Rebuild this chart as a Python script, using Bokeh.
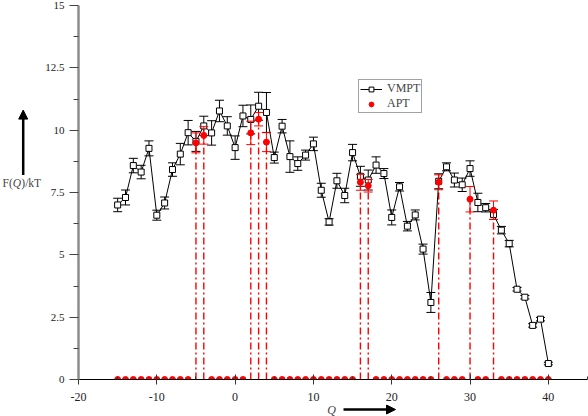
from bokeh.plotting import figure
from bokeh.layouts import row, column
from bokeh.models import (Whisker, TeeHead, Legend, LegendItem, Label, Arrow, NormalHead,
                          FixedTicker, ColumnDataSource, Range1d)
from bokeh.embed import file_html
from bokeh.resources import INLINE

# ---------------- data ----------------
q = [-15, -14, -13, -12, -11, -10, -9, -8, -7, -6,
     -5, -4, -3, -2, -1, 0, 1, 2, 3, 4,
     5, 6, 7, 8, 9, 10, 11, 12, 13, 14,
     15, 16, 17, 18, 19, 20, 21, 22, 23, 24,
     25, 26, 27, 28, 29, 30, 31, 32, 33, 34,
     35, 36, 37, 38, 39, 40]
vmpt = [7.0, 7.3, 8.58, 8.32, 9.27, 6.59, 7.08, 8.42, 9.04, 9.9,
        9.55, 10.17, 9.89, 10.77, 10.17, 9.3, 10.57, 10.43, 10.96, 10.71,
        8.9, 10.16, 8.94, 8.66, 9.0, 9.45, 7.59, 6.32, 7.97, 7.38,
        9.1, 8.15, 8.0, 8.6, 8.26, 6.5, 7.73, 6.15, 6.6, 5.23,
        3.09, 7.95, 8.53, 8.0, 7.81, 8.46, 7.1, 6.89, 6.62, 5.99,
        5.45, 3.62, 3.3, 2.17, 2.42, 0.64]
vmpt_err = [0.27, 0.3, 0.29, 0.27, 0.3, 0.2, 0.24, 0.27, 0.43, 0.49,
            0.4, 0.39, 0.49, 0.43, 0.37, 0.47, 0.43, 0.58, 0.56, 0.8,
            0.22, 0.27, 0.63, 0.27, 0.2, 0.27, 0.28, 0.13, 0.3, 0.29,
            0.33, 0.4, 0.4, 0.33, 0.2, 0.3, 0.17, 0.19, 0.2, 0.2,
            0.4, 0.3, 0.16, 0.28, 0.27, 0.31, 0.37, 0.17, 0.2, 0.15,
            0.13, 0.07, 0.07, 0.07, 0.07, 0.05]
apt = [0, 0, 0, 0, 0, 0, 0, 0, 0, 0,
       9.49, 9.79, 0, 0, 0, 0, 0, 9.89, 10.44, 9.52,
       0, 0, 0, 0, 0, 0, 0, 0, 0, 0,
       0, 7.91, 7.77, 0, 0, 0, 0, 0, 0, 0,
       0, 7.91, 0, 0, 0, 7.23, 0, 0, 6.79, 0,
       0, 0, 0, 0, 0, 0]
apt_err = [0, 0, 0, 0, 0, 0, 0, 0, 0, 0,
           0.4, 0.35, 0, 0, 0, 0, 0, 0.47, 0.27, 0.38,
           0, 0, 0, 0, 0, 0, 0, 0, 0, 0,
           0, 0.32, 0.25, 0, 0, 0, 0, 0, 0, 0,
           0, 0.3, 0, 0, 0, 0.51, 0, 0, 0.37, 0,
           0, 0, 0, 0, 0, 0]
x_ticks = [-20, -10, 0, 10, 20, 30, 40]
x_tick_labels = ["-20", "-10", "0", "10", "20", "30", "40"]
x_minor = [-15, -5, 5, 15, 25, 35, 45]
y_ticks = [0, 2.5, 5, 7.5, 10, 12.5, 15]
y_tick_labels = ["0", "2.5", "5", "7.5", "10", "12.5", "15"]
y_minor = [1.25, 3.75, 6.25, 8.75, 11.25, 13.75]

FONT = "Liberation Serif"
X0, X1, Y0, Y1 = -20, 45, 0, 15

# geometry (page pixels; the page renders from its top-left corner)
LW = 42                 # left label strip width
MW, MH = 588 - LW, 404  # main figure
BL, BR, BT, BB = 77 - LW, 1, 5, 25
BH = 12                 # bottom label strip height


def bare(w, h):
    f = figure(width=w, height=h, output_backend="svg", toolbar_location=None,
               x_range=Range1d(0, w), y_range=Range1d(0, h),
               x_axis_location=None, y_axis_location=None,
               min_border=0, min_border_left=0, min_border_right=0,
               min_border_top=0, min_border_bottom=0)
    f.outline_line_color = None
    f.xgrid.visible = False
    f.ygrid.visible = False
    return f


p = figure(width=MW, height=MH, output_backend="svg", toolbar_location=None,
           x_range=Range1d(X0, X1), y_range=Range1d(Y0, Y1),
           min_border_left=BL, min_border_right=BR, min_border_top=BT,
           min_border_bottom=BB)
p.outline_line_color = None
p.xgrid.visible = False
p.ygrid.visible = False

# axes
p.xaxis.ticker = FixedTicker(ticks=x_ticks, minor_ticks=x_minor)
p.xaxis.major_label_overrides = dict(zip(x_ticks, x_tick_labels))
p.xaxis.axis_line_color = "black"
p.xaxis.axis_line_width = 1.2
p.xaxis.major_tick_in = 5
p.xaxis.major_tick_out = 5
p.xaxis.minor_tick_in = 3
p.xaxis.minor_tick_out = 0
p.xaxis.major_tick_line_color = "#333333"
p.xaxis.minor_tick_line_color = "#333333"
p.xaxis.major_label_standoff = 8
p.xaxis.major_label_text_font = FONT
p.xaxis.major_label_text_font_size = "12px"
p.xaxis.major_label_text_color = "#222222"

p.yaxis.ticker = FixedTicker(ticks=y_ticks, minor_ticks=y_minor)
p.yaxis.major_label_overrides = dict(zip(y_ticks, y_tick_labels))
p.yaxis.axis_line_color = "#8c8c8c"
p.yaxis.axis_line_width = 2.5
p.yaxis.major_tick_in = 0
p.yaxis.major_tick_out = 9
p.yaxis.minor_tick_in = 0
p.yaxis.minor_tick_out = 5
p.yaxis.major_tick_line_color = "#444444"
p.yaxis.minor_tick_line_color = "#444444"
p.yaxis.major_label_standoff = 5
p.yaxis.major_label_text_font = FONT
p.yaxis.major_label_text_font_size = "11px"
p.yaxis.major_label_text_color = "#222222"

# APT drop lines
drop_q = [qq for qq, a in zip(q, apt) if a > 0]
drop_v = [a for a in apt if a > 0]
drop_e = [e for a, e in zip(apt, apt_err) if a > 0]
p.segment(x0=drop_q, y0=[0] * len(drop_q), x1=drop_q, y1=drop_v,
          line_color="red", line_width=1.4, line_dash="7 3 2 3")

# VMPT
vsrc = ColumnDataSource(dict(q=q, v=vmpt,
                             lo=[v - e for v, e in zip(vmpt, vmpt_err)],
                             hi=[v + e for v, e in zip(vmpt, vmpt_err)]))
p.add_layout(Whisker(source=vsrc, base="q", upper="hi", lower="lo",
                     line_color="black", line_width=1,
                     upper_head=TeeHead(size=9, line_color="black", line_width=1),
                     lower_head=TeeHead(size=9, line_color="black", line_width=1)))
vline = p.line(q, vmpt, line_color="black", line_width=1)
vsq = p.scatter(q, vmpt, marker="square", size=6, line_color="black",
                fill_color="white", line_width=1)

# APT
asrc = ColumnDataSource(dict(q=drop_q, v=drop_v,
                             lo=[v - e for v, e in zip(drop_v, drop_e)],
                             hi=[v + e for v, e in zip(drop_v, drop_e)]))
p.add_layout(Whisker(source=asrc, base="q", upper="hi", lower="lo",
                     line_color="red", line_width=1, level="glyph",
                     upper_head=TeeHead(size=9, line_color="red", line_width=1),
                     lower_head=TeeHead(size=9, line_color="red", line_width=1)))
adot = p.scatter(q, apt, marker="circle", size=6, line_color="red",
                 fill_color="red")

# legend (location relative to frame bottom-left; frame left at page 77, bottom 379)
legend = Legend(items=[LegendItem(label="VMPT", renderers=[vline, vsq]),
                       LegendItem(label="APT", renderers=[adot])],
                location=(357 - 77, 379 - 113), margin=0,
                padding=1, spacing=0, glyph_width=22, glyph_height=12,
                label_height=12, label_standoff=5,
                label_text_font=FONT, label_text_font_size="12px",
                border_line_color="#444444", border_line_width=1.5,
                background_fill_color="white", background_fill_alpha=1)
p.add_layout(legend)

# left strip: y label "F(Q)/kT" with an upward arrow
left = bare(LW, MH)
ly = MH - 192
left.add_layout(Label(x=2, y=ly, text="F(", text_font=FONT, text_font_size="11.5px",
                      text_baseline="middle", text_align="left"))
left.add_layout(Label(x=12.2, y=ly, text="Q", text_font=FONT, text_font_size="11.5px",
                      text_font_style="italic", text_baseline="middle", text_align="left"))
left.add_layout(Label(x=20.8, y=ly, text=")/kT", text_font=FONT, text_font_size="11.5px",
                      text_baseline="middle", text_align="left"))
left.add_layout(Arrow(x_start=22.7, y_start=MH - 183, x_end=22.7, y_end=MH - 113,
                      line_color="black", line_width=2.5,
                      end=NormalHead(size=9, fill_color="black", line_color="black")))

# bottom strip: x label "Q" with a right arrow
bottom = bare(588, BH)
by = 416 - 409
bottom.add_layout(Label(x=331, y=by, text="Q", text_font=FONT, text_font_size="12px",
                        text_font_style="italic", text_baseline="middle", text_align="center"))
bottom.add_layout(Arrow(x_start=343, y_start=by, x_end=395, y_end=by,
                        line_color="black", line_width=2.5,
                        end=NormalHead(size=9, fill_color="black", line_color="black")))

layout = column(row(left, p, spacing=0), bottom, spacing=0)
open("out.html", "w").write(file_html(layout, INLINE))
